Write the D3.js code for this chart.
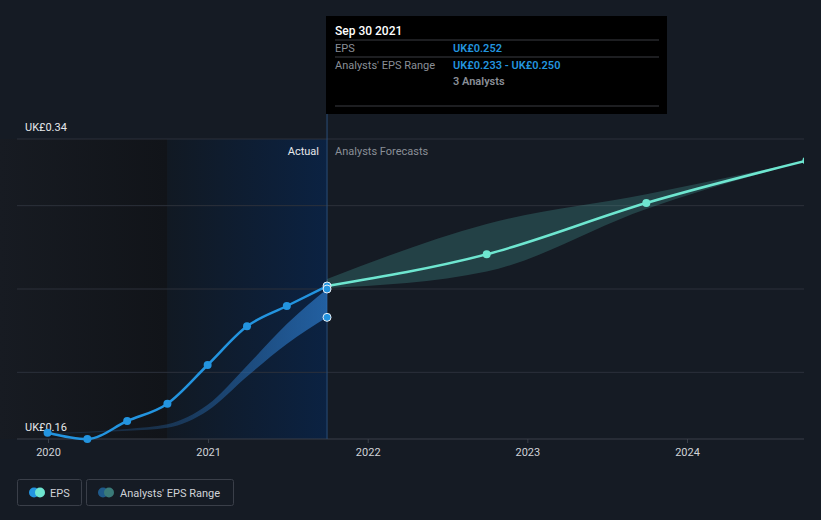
<!DOCTYPE html>
<html><head><meta charset="utf-8">
<script src="https://cdn.jsdelivr.net/npm/d3@7"></script>
<style>
body{margin:0;background:#151b24;}
text{font-family:Roboto,"Noto Sans",sans-serif;}
</style></head><body>
<svg id="c" width="821" height="520"></svg>
<script>
// ---- data ----
const actualDates = ["2019-12-31","2020-03-31","2020-06-30","2020-09-30","2020-12-31","2021-03-31","2021-06-30","2021-09-30"];
const actualEPS   = [0.1638,0.1600,0.1708,0.1812,0.2044,0.2276,0.2398,0.2518];
const pastRangeLow  = [0.1630,0.1638,0.1650,0.1668,0.1770,0.1975,0.2170,0.2330];
const pastRangeHigh = [0.1636,0.1644,0.1660,0.1688,0.1805,0.2040,0.2290,0.2500];
const forecastDates = ["2021-09-30","2022-09-30","2023-09-30","2024-09-30"];
const forecastEPS   = [0.2518,0.2708,0.3016,0.3270];
const forecastLow   = [0.2505,0.2605,0.2980,0.3270];
const forecastHigh  = [0.2560,0.2890,0.3068,0.3270];
const yearTicks = ["2020","2021","2022","2023","2024"];
const yTickValues = [0.20,0.25,0.30];
const yMin = 0.16, yMax = 0.34;

const P = d3.timeParse("%Y-%m-%d");
const svg = d3.select("#c");
const x = d3.scaleTime().domain([P("2020-01-01"),P("2024-01-01")]).range([48,687]);
const y = d3.scaleLinear().domain([yMin,yMax]).range([439,139]);

const defs = svg.append("defs");
const g1 = defs.append("linearGradient").attr("id","leftShade").attr("x1","0").attr("x2","1");
g1.append("stop").attr("offset","0").attr("stop-color","#171b22");
g1.append("stop").attr("offset","1").attr("stop-color","#111419");
const g2 = defs.append("linearGradient").attr("id","hl").attr("x1","0").attr("x2","1");
g2.append("stop").attr("offset","0").attr("stop-color","#111923");
g2.append("stop").attr("offset","1").attr("stop-color","#0b2242");
const g3 = defs.append("linearGradient").attr("id","band").attr("gradientUnits","userSpaceOnUse")
  .attr("x1",48).attr("x2",327).attr("y1",0).attr("y2",0);
g3.append("stop").attr("offset","0").attr("stop-color","#2a74c0").attr("stop-opacity",0.15);
g3.append("stop").attr("offset","0.5").attr("stop-color","#2a74c0").attr("stop-opacity",0.35);
g3.append("stop").attr("offset","1").attr("stop-color","#2a74c0").attr("stop-opacity",0.75);
defs.append("clipPath").attr("id","clip").append("rect").attr("x",0).attr("y",0).attr("width",804).attr("height",520);

const xNow = x(P("2021-09-30"));
const xSplit = x(P("2020-09-30"));
// background regions
svg.append("rect").attr("x",0).attr("y",139).attr("width",xSplit).attr("height",300).attr("fill","url(#leftShade)");
svg.append("rect").attr("x",xSplit).attr("y",139).attr("width",xNow-xSplit).attr("height",300).attr("fill","url(#hl)");

// grid
svg.append("g").selectAll("line").data([yMax].concat(yTickValues)).join("line")
  .attr("x1",17).attr("x2",804).attr("y1",d=>y(d)).attr("y2",d=>y(d))
  .attr("stroke","#2c313b").attr("stroke-width",1);
svg.append("line").attr("x1",17).attr("x2",804).attr("y1",y(yMin)).attr("y2",y(yMin)).attr("stroke","#3a3f49");

// x axis
const xAxis = d3.axisBottom(x).tickValues(yearTicks.map(d=>P(d+"-01-01"))).tickFormat(d3.timeFormat("%Y")).tickSize(4);
const ax = svg.append("g").attr("transform",`translate(0,${y(yMin)})`).call(xAxis);
ax.select(".domain").remove();
ax.selectAll("line").attr("stroke","#3a3f49");
ax.selectAll("text").attr("fill","#d0d3d8").attr("font-size",11).attr("dy","0.9em");

// y labels
svg.append("text").attr("x",25).attr("y",131).attr("fill","#e6e8eb").attr("font-size",11).text("UK£"+yMax.toFixed(2));
svg.append("text").attr("x",25).attr("y",431).attr("fill","#e6e8eb").attr("font-size",11).text("UK£"+yMin.toFixed(2));

// vertical now line
svg.append("line").attr("x1",xNow).attr("x2",xNow).attr("y1",16).attr("y2",439).attr("stroke","#2a4d78").attr("stroke-width",1);

// labels
svg.append("text").attr("x",xNow-8).attr("y",155).attr("text-anchor","end").attr("fill","#e6e8eb").attr("font-size",11).text("Actual");
svg.append("text").attr("x",xNow+8).attr("y",155).attr("fill","#8a8f97").attr("font-size",11).text("Analysts Forecasts");

const plot = svg.append("g").attr("clip-path","url(#clip)");
// past band
const past = actualDates.map((d,i)=>({d:P(d),v:actualEPS[i],lo:pastRangeLow[i],hi:pastRangeHigh[i]}));
plot.append("path").datum(past)
  .attr("d",d3.area().curve(d3.curveMonotoneX).x(d=>x(d.d)).y0(d=>y(d.lo)).y1(d=>y(d.hi)))
  .attr("fill","url(#band)");
// forecast band
const fc = forecastDates.map((d,i)=>({d:P(d),v:forecastEPS[i],lo:forecastLow[i],hi:forecastHigh[i]}));
plot.append("path").datum(fc)
  .attr("d",d3.area().curve(d3.curveMonotoneX).x(d=>x(d.d)).y0(d=>y(d.lo)).y1(d=>y(d.hi)))
  .attr("fill","#50b4aa").attr("fill-opacity",0.25);
// lines
plot.append("path").datum(fc)
  .attr("d",d3.line().curve(d3.curveMonotoneX).x(d=>x(d.d)).y(d=>y(d.v)))
  .attr("fill","none").attr("stroke","#6ee6d0").attr("stroke-width",2.5);
plot.append("path").datum(past)
  .attr("d",d3.line().curve(d3.curveMonotoneX).x(d=>x(d.d)).y(d=>y(d.v)))
  .attr("fill","none").attr("stroke","#2394df").attr("stroke-width",2.5);
// points
plot.selectAll("circle.a").data(past.slice(0,-1)).join("circle").attr("class","a")
  .attr("cx",d=>x(d.d)).attr("cy",d=>y(d.v)).attr("r",4).attr("fill","#2394df");
plot.selectAll("circle.f").data(fc.slice(1)).join("circle").attr("class","f")
  .attr("cx",d=>x(d.d)).attr("cy",d=>y(d.v)).attr("r",4).attr("fill","#6ee6d0");
const last = past[past.length-1];
[last.v,last.hi,last.lo].forEach(v=>{
  plot.append("circle").attr("cx",x(last.d)).attr("cy",y(v)).attr("r",4)
    .attr("fill","#2394df").attr("stroke","#e8eef5").attr("stroke-width",1);
});

// tooltip
const tt = svg.append("g");
tt.append("rect").attr("x",326).attr("y",16).attr("width",341).attr("height",98).attr("fill","#000");
tt.append("text").attr("x",335).attr("y",35).attr("fill","#fff").attr("font-size",12).attr("font-weight",500).text("Sep 30 2021");
[40,57,106].forEach(yy=>tt.append("line").attr("x1",335).attr("x2",659).attr("y1",yy).attr("y2",yy).attr("stroke","#3a3d42"));
tt.append("text").attr("x",335).attr("y",52).attr("fill","#8a8f97").attr("font-size",11).text("EPS");
tt.append("text").attr("x",453).attr("y",52).attr("fill","#2394df").attr("font-size",11).attr("font-weight",600).text("UK£0.252");
tt.append("text").attr("x",335).attr("y",69).attr("fill","#8a8f97").attr("font-size",11).text("Analysts' EPS Range");
tt.append("text").attr("x",453).attr("y",69).attr("fill","#2394df").attr("font-size",11).attr("font-weight",600)
  .text("UK£"+pastRangeLow[7].toFixed(3)+" - UK£"+pastRangeHigh[7].toFixed(3));
tt.append("text").attr("x",453).attr("y",85).attr("fill","#8a8f97").attr("font-size",11).attr("font-weight",600).text("3 Analysts");

// legend
const lg = svg.append("g");
lg.append("rect").attr("x",17.5).attr("y",479.5).attr("width",64).attr("height",26).attr("rx",2).attr("fill","none").attr("stroke","#3a3f49");
lg.append("circle").attr("cx",34).attr("cy",492.5).attr("r",5).attr("fill","#2394df");
lg.append("circle").attr("cx",40).attr("cy",492.5).attr("r",5).attr("fill","#6ee6d0");
lg.append("text").attr("x",50).attr("y",496.5).attr("fill","#d0d3d8").attr("font-size",11).text("EPS");
lg.append("rect").attr("x",86.5).attr("y",479.5).attr("width",147).attr("height",26).attr("rx",2).attr("fill","none").attr("stroke","#3a3f49");
lg.append("circle").attr("cx",103).attr("cy",492.5).attr("r",5).attr("fill","#1f5a8a");
lg.append("circle").attr("cx",109).attr("cy",492.5).attr("r",5).attr("fill","#3a7a78");
lg.append("text").attr("x",120).attr("y",496.5).attr("fill","#d0d3d8").attr("font-size",11).text("Analysts' EPS Range");
</script></body></html>
